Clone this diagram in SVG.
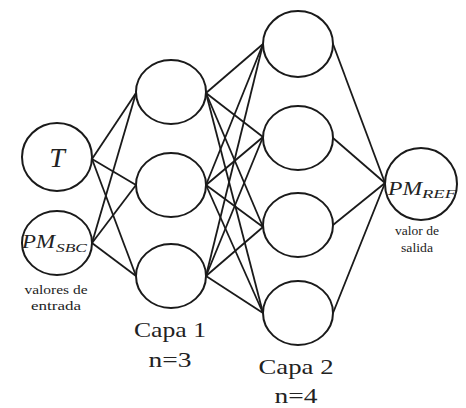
<svg xmlns="http://www.w3.org/2000/svg" width="466" height="408" viewBox="0 0 466 408">
<style>
.n{fill:none;stroke:#1a1a1a;stroke-width:2}
.c line{stroke:#1a1a1a;stroke-width:1.8}
text{font-family:"Liberation Serif","Times New Roman",serif;fill:#222}
.lab{font-size:22px;text-anchor:middle}
.sm{font-size:12.5px;text-anchor:middle}
.m{font-style:italic}
</style>
<rect width="466" height="408" fill="#fff"/>
<g class="c" id="connectors">
<line x1="92" y1="159" x2="136" y2="93"/>
<line x1="92" y1="159" x2="136" y2="185"/>
<line x1="92" y1="159" x2="136" y2="276"/>
<line x1="92" y1="243" x2="136" y2="93"/>
<line x1="92" y1="243" x2="136" y2="185"/>
<line x1="92" y1="243" x2="136" y2="276"/>
<line x1="206" y1="93" x2="263" y2="44"/>
<line x1="206" y1="93" x2="263" y2="137"/>
<line x1="206" y1="93" x2="263" y2="227"/>
<line x1="206" y1="93" x2="263" y2="313"/>
<line x1="206" y1="185" x2="263" y2="44"/>
<line x1="206" y1="185" x2="263" y2="137"/>
<line x1="206" y1="185" x2="263" y2="227"/>
<line x1="206" y1="185" x2="263" y2="313"/>
<line x1="206" y1="276" x2="263" y2="44"/>
<line x1="206" y1="276" x2="263" y2="137"/>
<line x1="206" y1="276" x2="263" y2="227"/>
<line x1="206" y1="276" x2="263" y2="313"/>
<line x1="333" y1="44" x2="385" y2="183"/>
<line x1="333" y1="138" x2="385" y2="183"/>
<line x1="333" y1="225" x2="385" y2="183"/>
<line x1="333" y1="313" x2="385" y2="183"/>
</g>
<g id="in-T">
<ellipse class="n" cx="57" cy="157" rx="35" ry="34"/>
<text x="57" y="167" class="m" font-size="28" text-anchor="middle">T</text>
</g>
<g id="in-PMSBC">
<ellipse class="n" cx="57" cy="243" rx="35" ry="32"/>
<text x="22" y="248" class="m" font-size="18" textLength="33" lengthAdjust="spacingAndGlyphs">PM</text>
<text x="56" y="252" class="m" font-size="12" textLength="31" lengthAdjust="spacingAndGlyphs">SBC</text>
</g>
<g id="inputs-label">
<text x="56" y="294" class="sm" textLength="63" lengthAdjust="spacingAndGlyphs">valores de</text>
<text x="56" y="310" class="sm" textLength="50" lengthAdjust="spacingAndGlyphs">entrada</text>
</g>
<g id="l1-1"><ellipse class="n" cx="171" cy="92" rx="35" ry="32"/></g>
<g id="l1-2"><ellipse class="n" cx="171" cy="185" rx="35" ry="32"/></g>
<g id="l1-3"><ellipse class="n" cx="171" cy="276" rx="35" ry="32"/></g>
<g id="l1-label">
<text x="170" y="337" class="lab" textLength="72" lengthAdjust="spacingAndGlyphs">Capa 1</text>
<text x="170" y="367" class="lab" textLength="43" lengthAdjust="spacingAndGlyphs">n=3</text>
</g>
<g id="l2-1"><ellipse class="n" cx="298" cy="44" rx="35" ry="33"/></g>
<g id="l2-2"><ellipse class="n" cx="298" cy="138" rx="35" ry="32"/></g>
<g id="l2-3"><ellipse class="n" cx="298" cy="225" rx="35" ry="32"/></g>
<g id="l2-4"><ellipse class="n" cx="298" cy="313" rx="35" ry="32"/></g>
<g id="l2-label">
<text x="296" y="374" class="lab" textLength="75" lengthAdjust="spacingAndGlyphs">Capa 2</text>
<text x="296" y="403" class="lab" textLength="43" lengthAdjust="spacingAndGlyphs">n=4</text>
</g>
<g id="out-PMREF">
<ellipse class="n" cx="421" cy="184" rx="36" ry="36"/>
<text x="388" y="195" class="m" font-size="18" textLength="34" lengthAdjust="spacingAndGlyphs">PM</text>
<text x="422" y="198" class="m" font-size="12" textLength="34" lengthAdjust="spacingAndGlyphs">REF</text>
</g>
<g id="output-label">
<text x="417" y="235" class="sm" textLength="44" lengthAdjust="spacingAndGlyphs">valor de</text>
<text x="417" y="252" class="sm" textLength="32" lengthAdjust="spacingAndGlyphs">salida</text>
</g>
</svg>
